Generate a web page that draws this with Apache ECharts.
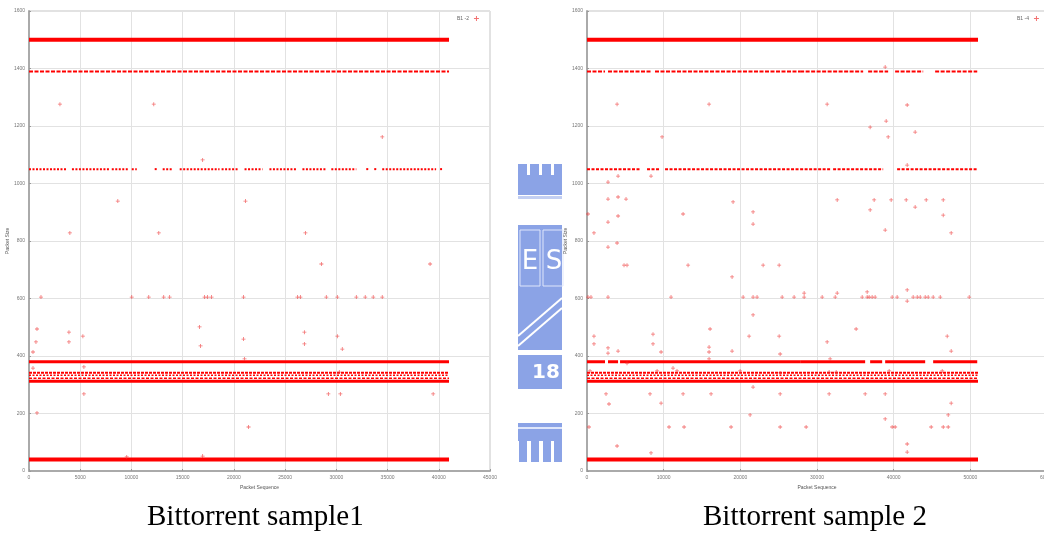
<!DOCTYPE html>
<html>
<head>
<meta charset="utf-8">
<script src="https://cdn.jsdelivr.net/npm/echarts@6/dist/echarts.min.js"></script>
<style>
  body { margin: 0; background: #ffffff; }
  #chart { width: 1044px; height: 542px; }
</style>
</head>
<body>
<div id="chart"></div>
<script>
// ---- data ----
// axis ticks
const yTicks = [0, 1600, 200];
const xTicks1 = [0, 45000, 5000];
const xTicks2 = [0, 60000, 10000];

// sample 1: runs of dense packets [from, to] at a packet size
const s1At1500 = [[0, 41000]];
const s1At1390 = [[0, 41000]];
const s1At1050 = [[0, 3700], [4190, 7890], [8080, 9640], [10030, 10520], [12270, 12560], [13050, 13930],
  [14710, 18600], [18800, 20360], [21040, 22790], [23470, 26100], [26690, 29020], [29510, 31950],
  [32920, 33210], [33700, 33990], [34480, 39740], [40130, 40320]];
const s1At380 = [[0, 41000]];
const s1Band = [[0, 41000]];
const s1At40 = [[0, 41000]];
// sample 1: scattered packets [sequence, size]
const s1Points = [[3020, 1276], [12180, 1276], [16950, 1082], [34480, 1162], [8670, 939], [21130, 939],
  [3990, 828], [12670, 828], [26980, 828], [28540, 720], [39150, 720],
  [1170, 605], [10030, 605], [11690, 605], [13150, 605], [13730, 605], [17140, 605], [17430, 605], [17820, 605],
  [20940, 605], [26200, 605], [26490, 605], [29020, 605], [30100, 605], [31950, 605], [32820, 605], [33600, 605], [34480, 605],
  [780, 494], [680, 449], [3900, 483], [3900, 449], [5260, 469], [390, 414], [16650, 501], [16750, 435],
  [20940, 459], [21040, 390], [26880, 483], [26880, 442], [30100, 469], [30580, 424], [30290, 344],
  [390, 358], [5360, 362], [780, 202], [5360, 268], [29220, 268], [30390, 268], [39450, 268],
  [21430, 153], [9540, 49], [16950, 52]];

// sample 2: runs of dense packets
const s2At1500 = [[0, 51000]];
const s2At1390 = [[0, 2350], [2740, 8480], [8870, 27800], [27800, 36020], [36670, 39280], [40190, 43850], [45410, 50900]];
const s2At1050 = [[0, 6920], [7830, 9530], [10180, 27800], [27800, 31710], [32100, 38630], [40450, 50900]];
const s2At380 = [[0, 2350], [2740, 4050], [4310, 27800], [27800, 36280], [36930, 38500], [38890, 44110], [45150, 50900]];
const s2Band = [[0, 51000]];
const s2At40 = [[0, 51000]];
// sample 2: scattered packets
const s2Points = [[3920, 1276], [15920, 1276], [9790, 1162], [2740, 1005], [4050, 1026], [8350, 1026],
  [38890, 1405], [31320, 1276], [41760, 1273], [39020, 1217], [36930, 1196], [39280, 1162], [42800, 1179], [41760, 1064],
  [2740, 946], [4050, 953], [5090, 946], [32630, 943], [37450, 943], [39670, 943], [41630, 943], [44240, 943], [46460, 943],
  [130, 894], [2740, 866], [4050, 887], [910, 828], [2740, 779], [3920, 793], [12530, 894], [19050, 936], [21660, 901], [21660, 859],
  [36930, 908], [42800, 918], [46460, 890], [38890, 838], [47500, 828],
  [4830, 716], [5220, 716], [13180, 716], [22970, 716], [25060, 716], [18920, 675],
  [130, 605], [520, 605], [2740, 605], [10960, 605], [20360, 605], [21660, 605], [22180, 605], [25450, 605], [27010, 605],
  [28320, 605], [30670, 605], [32370, 605], [35890, 605], [36540, 605], [36800, 605], [37190, 605], [37580, 605],
  [39800, 605], [40450, 605], [42540, 605], [43070, 605], [43460, 605], [44110, 605], [44500, 605], [45150, 605], [46070, 605], [49850, 605],
  [28320, 619], [32630, 619], [36540, 623], [41760, 630], [41760, 591], [21660, 543],
  [910, 469], [910, 442], [2740, 428], [2740, 410], [4050, 417], [8610, 476], [8610, 442], [9660, 414],
  [16050, 494], [15920, 431], [15920, 414], [15920, 390], [18920, 417], [21140, 469], [25060, 469], [25190, 407],
  [35100, 494], [31320, 449], [46980, 469], [47500, 417], [31710, 390],
  [5220, 375], [11220, 358], [11740, 348], [9140, 348], [19970, 348], [25190, 341], [390, 348],
  [31580, 344], [32500, 344], [39410, 348], [46330, 348], [21660, 292],
  [2480, 268], [2870, 233], [8220, 268], [9660, 236], [12530, 268], [16180, 268], [25190, 268], [21270, 195],
  [31580, 268], [36280, 268], [38890, 268], [47500, 236], [47110, 195], [38890, 181],
  [260, 153], [10700, 153], [12660, 153], [18790, 153], [25190, 153], [28580, 153], [39800, 153], [40190, 153],
  [44890, 153], [46460, 153], [47110, 153], [3920, 87], [8350, 63], [41760, 94], [41760, 66]];

// ---- chart ----
const RED = '#ff0000';
const PLUS = 'path://M1.6,0H2.4V1.6H4V2.4H2.4V4H1.6V2.4H0V1.6H1.6Z';
const LOGO = '#8ba3e6';

function runs(list, size) {
  return list.map(r => [r[0], r[1], size]);
}

function runSeries(data, idx, width, dash) {
  return {
    type: 'custom',
    xAxisIndex: idx,
    yAxisIndex: idx,
    silent: true,
    encode: { x: [0, 1], y: 2 },
    data: data,
    renderItem: function (params, api) {
      const a = api.coord([api.value(0), api.value(2)]);
      const b = api.coord([api.value(1), api.value(2)]);
      return {
        type: 'line',
        shape: { x1: a[0], y1: a[1], x2: b[0], y2: b[1] },
        style: { stroke: RED, lineWidth: width, lineDash: dash || null }
      };
    }
  };
}

function bandSeries(list, idx) {
  // the thick 310-345 band is drawn as a few stacked rows
  return [
    runSeries(runs(list, 312), idx, 3),
    runSeries(runs(list, 323), idx, 1.5, [3, 1.5]),
    runSeries(runs(list, 333), idx, 1.5, [2, 1.5]),
    runSeries(runs(list, 342), idx, 2, [3, 1])
  ];
}

function xAxis(idx, t) {
  return {
    gridIndex: idx, type: 'value', min: t[0], max: t[1], interval: t[2],
    name: 'Packet Sequence', nameLocation: 'middle', nameGap: 12,
    nameTextStyle: { fontSize: 5, color: '#555' },
    axisLine: { lineStyle: { color: '#aaa', width: 2 } },
    axisTick: { inside: true, length: 2, lineStyle: { color: '#999' } },
    axisLabel: { fontSize: 5, color: '#777', margin: 4, formatter: v => String(v) },
    splitLine: { lineStyle: { color: '#e2e2e2' } }
  };
}

function yAxis(idx) {
  return {
    gridIndex: idx, type: 'value', min: yTicks[0], max: yTicks[1], interval: yTicks[2],
    name: 'Packet Size', nameLocation: 'middle', nameGap: 17, nameRotate: 90,
    nameTextStyle: { fontSize: 5, color: '#555' },
    axisLine: { show: true, lineStyle: { color: '#aaa', width: 2 } },
    axisTick: { inside: true, length: 2, lineStyle: { color: '#999' } },
    axisLabel: { fontSize: 5, color: '#777', margin: 4, formatter: v => String(v) },
    splitLine: { lineStyle: { color: '#e2e2e2' } }
  };
}

const chart = echarts.init(document.getElementById('chart'));
chart.setOption({
  backgroundColor: '#ffffff',
  animation: false,
  grid: [
    { left: 29, top: 11, width: 461, height: 460, show: true, borderColor: '#c4c4c4', borderWidth: 1,
      outerBoundsMode: 'none' },
    { left: 587, top: 11, width: 460, height: 460, show: true, borderColor: '#c4c4c4', borderWidth: 1,
      outerBoundsMode: 'none' }
  ],
  xAxis: [xAxis(0, xTicks1), xAxis(1, xTicks2)],
  yAxis: [yAxis(0), yAxis(1)],
  legend: [
    { data: ['B1 -2'], left: 452, top: 11, align: 'right', itemWidth: 5, itemHeight: 5, itemGap: 2,
      icon: PLUS, textStyle: { fontSize: 5, color: '#666' } },
    { data: ['B1 -4'], left: 1012, top: 11, align: 'right', itemWidth: 5, itemHeight: 5, itemGap: 2,
      icon: PLUS, textStyle: { fontSize: 5, color: '#666' } }
  ],
  series: [
    runSeries(runs(s1At1500, 1500), 0, 4),
    runSeries(runs(s1At1390, 1390), 0, 2, [4, 1.5]),
    runSeries(runs(s1At1050, 1050), 0, 2, [2, 1.5]),
    runSeries(runs(s1At380, 380), 0, 3),
    ...bandSeries(s1Band, 0),
    runSeries(runs(s1At40, 40), 0, 4),
    {
      name: 'B1 -2', type: 'scatter', xAxisIndex: 0, yAxisIndex: 0,
      symbol: PLUS, symbolSize: 4, itemStyle: { color: '#ee3535', opacity: 0.7 },
      data: s1Points
    },
    runSeries(runs(s2At1500, 1500), 1, 4),
    runSeries(runs(s2At1390, 1390), 1, 2, [4, 1.5]),
    runSeries(runs(s2At1050, 1050), 1, 2, [3, 1.5]),
    runSeries(runs(s2At380, 380), 1, 3),
    ...bandSeries(s2Band, 1),
    runSeries(runs(s2At40, 40), 1, 4),
    {
      name: 'B1 -4', type: 'scatter', xAxisIndex: 1, yAxisIndex: 1,
      symbol: PLUS, symbolSize: 4, itemStyle: { color: '#ee3535', opacity: 0.7 },
      data: s2Points
    }
  ],
  graphic: [
    // captions
    { type: 'text', left: 265 - 118, top: 503,
      style: { text: 'Bittorrent sample1', font: '29px "Liberation Serif"', fill: '#000' } },
    { type: 'text', left: 823 - 120, top: 503,
      style: { text: 'Bittorrent sample 2', font: '29px "Liberation Serif"', fill: '#000' } },
    // watermark logo between the two plots
    { type: 'group', silent: true, children: [
      { type: 'rect', shape: { x: 518, y: 175, width: 44, height: 20 }, style: { fill: LOGO } },
      { type: 'rect', shape: { x: 518, y: 164, width: 9, height: 12 }, style: { fill: LOGO } },
      { type: 'rect', shape: { x: 530, y: 164, width: 9, height: 12 }, style: { fill: LOGO } },
      { type: 'rect', shape: { x: 542, y: 164, width: 9, height: 12 }, style: { fill: LOGO } },
      { type: 'rect', shape: { x: 554, y: 164, width: 8, height: 12 }, style: { fill: LOGO } },
      { type: 'rect', shape: { x: 518, y: 196, width: 44, height: 3 }, style: { fill: '#c3cff2' } },
      { type: 'rect', shape: { x: 518, y: 225, width: 44, height: 125 }, style: { fill: LOGO } },
      { type: 'rect', shape: { x: 520, y: 230, width: 20, height: 56 }, style: { fill: 'none', stroke: '#dfe6fb', lineWidth: 1 } },
      { type: 'rect', shape: { x: 543, y: 230, width: 20, height: 56 }, style: { fill: 'none', stroke: '#dfe6fb', lineWidth: 1 } },
      { type: 'text', x: 530, y: 262, style: { text: 'E', font: '26px "DejaVu Sans"', fill: '#ffffff', align: 'center', verticalAlign: 'middle' } },
      { type: 'text', x: 554, y: 262, style: { text: 'S', font: '26px "DejaVu Sans"', fill: '#ffffff', align: 'center', verticalAlign: 'middle' } },
      { type: 'line', shape: { x1: 518, y1: 336, x2: 562, y2: 298 }, style: { stroke: '#ffffff', lineWidth: 2 } },
      { type: 'line', shape: { x1: 518, y1: 346, x2: 562, y2: 308 }, style: { stroke: '#ffffff', lineWidth: 2 } },
      { type: 'rect', shape: { x: 518, y: 355, width: 44, height: 34 }, style: { fill: LOGO } },
      { type: 'text', x: 546, y: 373, style: { text: '18', font: 'bold 20px "DejaVu Sans"', fill: '#ffffff', align: 'center', verticalAlign: 'middle' } },
      { type: 'rect', shape: { x: 518, y: 423, width: 44, height: 18 }, style: { fill: LOGO } },
      { type: 'rect', shape: { x: 518, y: 427, width: 44, height: 2 }, style: { fill: '#dfe6fb' } },
      { type: 'rect', shape: { x: 519, y: 440, width: 8, height: 22 }, style: { fill: LOGO } },
      { type: 'rect', shape: { x: 531, y: 440, width: 8, height: 22 }, style: { fill: LOGO } },
      { type: 'rect', shape: { x: 543, y: 440, width: 8, height: 22 }, style: { fill: LOGO } },
      { type: 'rect', shape: { x: 554, y: 440, width: 8, height: 22 }, style: { fill: LOGO } }
    ] }
  ]
});
</script>
</body>
</html>
